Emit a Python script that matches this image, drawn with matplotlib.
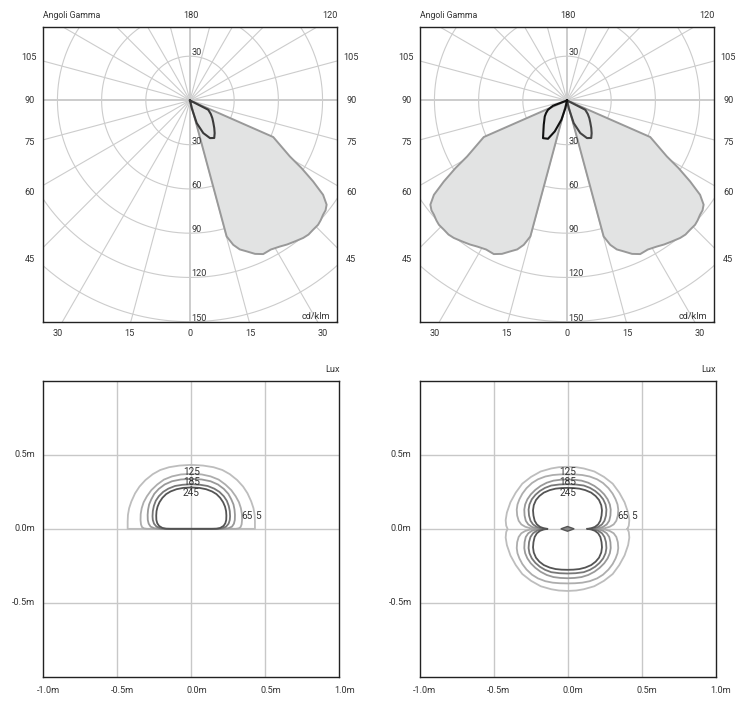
import numpy as np
import matplotlib
matplotlib.use("Agg")
import matplotlib.pyplot as plt

plt.rcParams['font.family'] = ['Roboto', 'DejaVu Sans']

# ---------------- data ----------------
# polar rings (cd/klm) and gamma grid spacing
ring_values = [30, 60, 90, 120, 150, 180]
ring_labels_below = [30, 60, 90, 120, 150]
ring_label_above = 30
side_labels = ["105", "90", "75", "60", "45"]
side_label_y = [29.3, 0.0, -28.6, -62.5, -108.1]
bottom_labels = ["30", "15", "0", "15", "30"]
bottom_label_x = [-90, -41, 0, 41, 90]

# C0 plane (big grey lobe): gamma (deg) and intensity (cd/klm)
gamma_main = [15.0, 15.1, 16.7, 18.5, 20.6, 23.0, 25.5, 28.5, 31.6, 34.0, 36.7, 39.5,
              41.5, 43.6, 45.9, 47.5, 49.4, 51.0, 52.7, 54.7, 56.7, 58.8, 60.75, 66.3, 66.5]
inten_main = [0.0, 95.5, 102.2, 106.5, 109.3, 113.0, 115.4, 115.0, 116.3, 117.8, 119.2,
              120.8, 121.4, 121.1, 121.1, 120.3, 119.0, 118.4, 116.6, 110.7, 100.0, 88.5,
              77.7, 61.7, 0.0]

# C90 plane (small dark loop, right side)
gamma_loop_r = [10.0, 12.6, 16.5, 22.2, 28.0, 32.9, 37.0, 41.4, 46.5, 51.7, 57.0, 63.0, 70.0]
inten_loop_r = [0.0, 5.3, 16.0, 23.9, 28.9, 30.3, 27.8, 24.9, 21.8, 19.3, 16.8, 13.9, 0.0]

# C270 plane (small dark loop, left side, right chart)
gamma_loop_l = [10.0, 11.9, 16.2, 21.6, 26.4, 32.5, 38.0, 43.8, 49.0, 54.3, 59.0, 63.9, 69.3, 75.0]
inten_loop_l = [0.0, 5.3, 13.6, 22.6, 29.0, 30.3, 26.0, 22.8, 20.4, 18.6, 16.6, 14.4, 10.2, 0.0]

# Isolux levels (lux)
lux_levels = [5, 65, 125, 185, 245]
lux_colors = ['#bdbdbd', '#adadad', '#999999', '#777777', '#545454']

# Left isolux (half plane): right half from top to base (m)
iso_l_x = {
    5:   [0.0, 0.08, 0.15, 0.21, 0.26, 0.31, 0.35, 0.38, 0.405, 0.42, 0.428, 0.43, 0.43],
    65:  [0.0, 0.07, 0.13, 0.185, 0.23, 0.27, 0.30, 0.322, 0.335, 0.342, 0.343, 0.34,
          0.333, 0.32, 0.30],
    125: [0.0, 0.07, 0.13, 0.18, 0.22, 0.25, 0.27, 0.285, 0.292, 0.295, 0.294, 0.288,
          0.275, 0.25, 0.22, 0.18],
    185: [0.0, 0.06, 0.11, 0.155, 0.19, 0.22, 0.24, 0.253, 0.26, 0.262, 0.26, 0.252,
          0.235, 0.21, 0.18, 0.15],
    245: [0.0, 0.055, 0.10, 0.14, 0.17, 0.195, 0.215, 0.228, 0.235, 0.237, 0.236, 0.23,
          0.218, 0.195, 0.17, 0.14],
}
iso_l_y = {
    5:   [0.433, 0.428, 0.417, 0.398, 0.37, 0.33, 0.286, 0.24, 0.185, 0.14, 0.095, 0.05, 0.0],
    65:  [0.372, 0.368, 0.355, 0.333, 0.30, 0.262, 0.22, 0.18, 0.14, 0.10, 0.06, 0.03,
          0.012, 0.003, 0.0],
    125: [0.338, 0.334, 0.322, 0.30, 0.27, 0.237, 0.20, 0.165, 0.13, 0.095, 0.06, 0.035,
          0.015, 0.004, 0.0, 0.0],
    185: [0.302, 0.298, 0.29, 0.272, 0.25, 0.22, 0.19, 0.155, 0.12, 0.085, 0.06, 0.035,
          0.015, 0.004, 0.0, 0.0],
    245: [0.28, 0.277, 0.268, 0.253, 0.235, 0.21, 0.18, 0.15, 0.12, 0.09, 0.06, 0.038,
          0.02, 0.006, 0.001, 0.0],
}

# Right isolux (full plane): first quadrant from axis tail to top (m)
iso_r_x = {
    5:   [0.405, 0.4143, 0.4178, 0.4096, 0.3856, 0.3498, 0.3055, 0.2462, 0.181, 0.1095,
          0.0586, 0.0],
    65:  [0.22, 0.25, 0.285, 0.312, 0.33, 0.34, 0.343, 0.338, 0.325, 0.305, 0.277, 0.24,
          0.20, 0.15, 0.10, 0.05, 0.0],
    125: [0.18, 0.21, 0.24, 0.265, 0.282, 0.29, 0.292, 0.286, 0.271, 0.248, 0.218, 0.182,
          0.14, 0.095, 0.048, 0.0],
    185: [0.15, 0.18, 0.208, 0.233, 0.25, 0.26, 0.263, 0.257, 0.241, 0.217, 0.187, 0.152,
          0.11, 0.055, 0.0],
    245: [0.135, 0.16, 0.185, 0.207, 0.222, 0.23, 0.233, 0.228, 0.213, 0.19, 0.16, 0.12,
          0.08, 0.04, 0.0],
}
iso_r_y = {
    5:   [0.0, 0.0217, 0.0587, 0.1098, 0.1798, 0.2449, 0.3055, 0.3516, 0.3882, 0.4086,
          0.417, 0.42],
    65:  [0.0, 0.004, 0.014, 0.03, 0.055, 0.09, 0.13, 0.165, 0.20, 0.238, 0.275, 0.31,
          0.335, 0.354, 0.364, 0.368, 0.369],
    125: [0.0, 0.004, 0.013, 0.03, 0.055, 0.09, 0.13, 0.165, 0.20, 0.233, 0.263, 0.29,
          0.312, 0.326, 0.332, 0.334],
    185: [0.0, 0.004, 0.013, 0.03, 0.055, 0.09, 0.13, 0.165, 0.20, 0.23, 0.256, 0.277,
          0.293, 0.3, 0.302],
    245: [0.0, 0.004, 0.013, 0.03, 0.055, 0.09, 0.125, 0.16, 0.195, 0.222, 0.245, 0.262,
          0.272, 0.276, 0.277],
}
# small central isolux (right chart)
center_x = [0.045, 0.0, -0.045, 0.0]
center_y = [0.0, 0.016, 0.0, -0.016]

iso_label_text = ["125", "185", "245", "65", "5"]
iso_label_x = [0.0, 0.0, 0.0, 0.378, 0.450]
iso_label_y = [0.382, 0.318, 0.245, 0.088, 0.088]
metre_ticks = [-1.0, -0.5, 0.0, 0.5, 1.0]
metre_labels = ["-1.0m", "-0.5m", "0.0m", "0.5m", "1.0m"]

# ---------------- figure ----------------
W, H = 748, 709
fig = plt.figure(figsize=(W / 100, H / 100), dpi=100)


def ax_px(x0, y0, x1, y1):
    return fig.add_axes([x0 / W, 1 - y1 / H, (x1 - x0) / W, (y1 - y0) / H])


TXT = '#333333'
FS = 6.6
GRID = '#cccccc'
FILL = '#e2e3e3'


def polar_xy(gam, inten, side):
    g = np.radians(np.asarray(gam))
    i = np.asarray(inten)
    return side * i * np.sin(g), -i * np.cos(g)


def polar_panel(ax, fills, loops):
    ax.set_xlim(-100, 100)
    ax.set_ylim(-150, 50)
    ax.set_xticks([])
    ax.set_yticks([])
    for s in ax.spines.values():
        s.set_color('#222222')
        s.set_linewidth(1.0)
    t = np.linspace(0, 2 * np.pi, 400)
    for r in ring_values:
        ax.plot(r * np.cos(t), r * np.sin(t), color=GRID, lw=0.8, zorder=1)
    for a in range(0, 360, 15):
        ar = np.radians(a)
        lw = 1.4 if a % 90 == 0 else 0.8
        ax.plot([0, 400 * np.sin(ar)], [0, -400 * np.cos(ar)], color=GRID, lw=lw, zorder=1)
    for gam, inten, side in fills:
        x, y = polar_xy(gam, inten, side)
        ax.fill(x, y, color=FILL, zorder=2, lw=0)
    for gam, inten, side in fills:
        x, y = polar_xy(gam, inten, side)
        ax.plot(np.append(x, x[0]), np.append(y, y[0]), color='#999999', lw=1.4,
                zorder=3, solid_joinstyle='round')
    for gam, inten, side, col in loops:
        x, y = polar_xy(gam, inten, side)
        ax.plot(np.append(x, x[0]), np.append(y, y[0]), color=col, lw=1.5, zorder=4,
                solid_joinstyle='round')
    # labels
    ax.text(0.8, ring_label_above + 0.8, str(ring_label_above), fontsize=FS, color=TXT,
            va='baseline', ha='left', zorder=5)
    for r in ring_labels_below:
        ax.text(0.8, -r + 0.8, str(r), fontsize=FS, color=TXT, va='baseline', ha='left', zorder=5)
    for lab, yy in zip(side_labels, side_label_y):
        ax.text(-109, yy, lab, fontsize=FS, color=TXT, va='center', ha='center', clip_on=False)
        ax.text(109.5, yy, lab, fontsize=FS, color=TXT, va='center', ha='center', clip_on=False)
    for lab, xx in zip(bottom_labels, bottom_label_x):
        ax.text(xx, -157.8, lab, fontsize=FS, color=TXT, va='center', ha='center', clip_on=False)
    ax.text(-100, 57.5, "Angoli Gamma", fontsize=6.3, color=TXT, va='center', ha='left',
            clip_on=False)
    ax.text(0.5, 57.5, "180", fontsize=FS, color=TXT, va='center', ha='center', clip_on=False)
    ax.text(95, 57.5, "120", fontsize=FS, color=TXT, va='center', ha='center', clip_on=False)
    ax.text(95.5, -148.5, "cd/klm", fontsize=FS, color=TXT, va='baseline', ha='right',
            zorder=5)


def iso_panel(ax):
    ax.set_xlim(-1, 1)
    ax.set_ylim(-1, 1)
    ax.set_xticks([])
    ax.set_yticks([])
    for s in ax.spines.values():
        s.set_color('#222222')
        s.set_linewidth(1.0)
    for v in [-0.5, 0.0, 0.5]:
        ax.axvline(v, color='#c8c8c8', lw=1.0, zorder=1)
        ax.axhline(v, color='#c8c8c8', lw=1.0, zorder=1)
    for yy, lab in zip([0.5, 0.0, -0.5], ["0.5m", "0.0m", "-0.5m"]):
        ax.text(-1.053, yy, lab, fontsize=FS, color=TXT, ha='right', va='center', clip_on=False)
    for xx, lab in zip(metre_ticks, metre_labels):
        ax.text(xx + 0.035, -1.09, lab, fontsize=FS, color=TXT, ha='center', va='center',
                clip_on=False)
    ax.text(1.0, 1.08, "Lux", fontsize=FS, color=TXT, ha='right', va='center', clip_on=False)
    for t, xx, yy in zip(iso_label_text, iso_label_x, iso_label_y):
        ax.text(xx, yy, t, fontsize=FS + 0.6, color=TXT, ha='center', va='center', zorder=6)


# --- top-left polar ---
ax1 = ax_px(42.7, 26.7, 337.3, 321.7)
polar_panel(ax1,
            fills=[(gamma_main, inten_main, 1)],
            loops=[(gamma_loop_r, inten_loop_r, 1, '#3a3a3a')])

# --- top-right polar ---
ax2 = ax_px(419.7, 26.7, 714.3, 321.7)
polar_panel(ax2,
            fills=[(gamma_main, inten_main, 1), (gamma_main, inten_main, -1)],
            loops=[(gamma_loop_r, inten_loop_r, 1, '#444444'),
                   (gamma_loop_l, inten_loop_l, -1, '#111111')])

# --- bottom-left isolux ---
ax3 = ax_px(43.3, 381.0, 339.3, 676.7)
iso_panel(ax3)
for lev, col in zip(lux_levels, lux_colors):
    x = np.array(iso_l_x[lev])
    y = np.array(iso_l_y[lev])
    xf = np.concatenate([x, -x[::-1], x[:1]])
    yf = np.concatenate([y, y[::-1], y[:1]])
    ax3.plot(xf, yf, color=col, lw=1.3, zorder=3, solid_joinstyle='round')

# --- bottom-right isolux ---
ax4 = ax_px(419.5, 381.0, 715.5, 676.7)
iso_panel(ax4)
for lev, col in zip(lux_levels, lux_colors):
    x = np.array(iso_r_x[lev])
    y = np.array(iso_r_y[lev])
    xf = np.concatenate([x, -x[::-1], -x, x[::-1]])
    yf = np.concatenate([y, y[::-1], -y, -y[::-1]])
    ax4.plot(np.append(xf, xf[0]), np.append(yf, yf[0]), color=col, lw=1.3, zorder=3,
             solid_joinstyle='round')
ax4.fill(center_x, center_y, facecolor='#888888', edgecolor='#555555', lw=1.0, zorder=3)

fig.savefig("out.png", dpi=100)
